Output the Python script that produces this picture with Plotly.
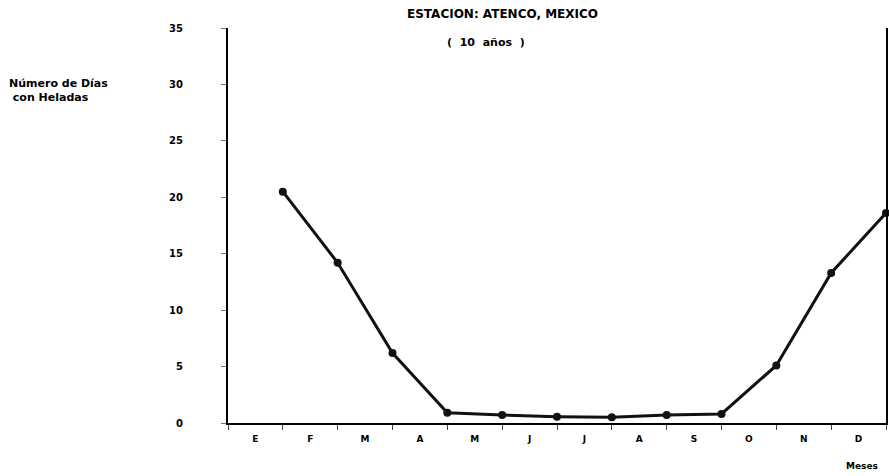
import plotly.graph_objects as go

meses = ["E", "F", "M", "A", "M", "J", "J", "A", "S", "O", "N", "D"]
posicion = [1, 2, 3, 4, 5, 6, 7, 8, 9, 10, 11, 12]
dias_helada = [20.5, 14.2, 6.2, 0.9, 0.7, 0.55, 0.5, 0.7, 0.8, 5.1, 13.3, 18.6]
y_ticks = [0, 5, 10, 15, 20, 25, 30, 35]

fuente = dict(family="DejaVu Sans", size=10, color="black")

fig = go.Figure()
fig.add_trace(go.Scatter(
    x=posicion, y=dias_helada, mode="lines+markers",
    line=dict(color="#111111", width=3),
    marker=dict(size=8, color="#111111"),
    cliponaxis=False, showlegend=False,
))

fig.update_layout(
    width=889, height=476,
    margin=dict(l=228, r=1, t=28, b=53),
    paper_bgcolor="white", plot_bgcolor="white",
    font=fuente,
)

fig.update_xaxes(
    range=[0, 12],
    tickmode="array", tickvals=[p - 0.5 for p in posicion], ticktext=meses,
    ticks="", ticklabelstandoff=6,
    minor=dict(tickmode="linear", tick0=0, dtick=1, ticks="outside",
               ticklen=5, tickcolor="#444444", tickwidth=1),
    showline=True, linecolor="black", linewidth=1.5,
    showgrid=False, zeroline=False,
    tickfont=dict(family="DejaVu Sans", size=9, color="black", weight="bold"),
)
fig.update_yaxes(
    range=[0, 35],
    tickmode="array", tickvals=y_ticks,
    ticks="outside", ticklen=5, tickcolor="#777777", tickwidth=1,
    ticklabelstandoff=36,
    showline=True, linecolor="black", linewidth=2, mirror=True,
    showgrid=False, zeroline=False,
    tickfont=dict(family="DejaVu Sans", size=10, color="black", weight="bold"),
)

textos = [
    ("ESTACION: ATENCO, MEXICO", 503, 14, "center", 12),
    ("(  10  años  )", 487, 43, "center", 11),
    ("Número de Días<br> con Heladas", 6, 91, "left", 11),
    ("Meses", 864, 466, "center", 9),
]
for texto, px, py, alinea, tam in textos:
    fig.add_annotation(
        text=texto, xref="paper", yref="paper",
        x=(px - 228) / 660, y=(423 - py) / 395,
        xanchor={"left": "left", "center": "center"}[alinea], yanchor="middle",
        align=alinea, showarrow=False,
        font=dict(family="DejaVu Sans", size=tam, color="black", weight="bold"),
    )

fig.write_html("out.html", config={"displayModeBar": False},
               post_script="document.body.style.margin='0';")
